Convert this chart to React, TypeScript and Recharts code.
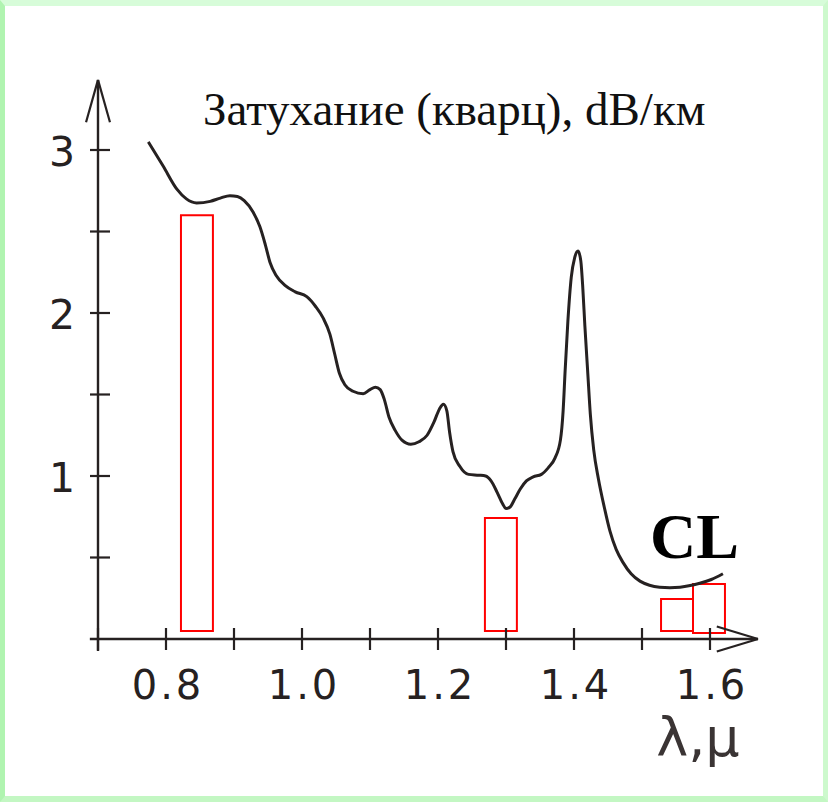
import {
  Line,
  LineChart,
  ReferenceArea,
  ReferenceLine,
  XAxis,
  YAxis,
} from "recharts";

// wavelength (µm) and attenuation (dB/km)
const wavelength = [
  0.774, 0.796, 0.816, 0.83, 0.845, 0.865, 0.88, 0.894, 0.905, 0.915, 0.928, 0.938,
  0.946, 0.953, 0.962, 0.975, 0.99, 1.007, 1.02, 1.031, 1.041, 1.048, 1.055, 1.063,
  1.075, 1.09, 1.1, 1.108, 1.115, 1.121, 1.128, 1.137, 1.147, 1.16, 1.172, 1.184,
  1.194, 1.202, 1.208, 1.213, 1.217, 1.222, 1.232, 1.245, 1.26, 1.27, 1.278, 1.287,
  1.295, 1.3, 1.306, 1.313, 1.321, 1.33, 1.34, 1.352, 1.362, 1.372, 1.38, 1.384,
  1.387, 1.391, 1.396, 1.401, 1.406, 1.41, 1.413, 1.416, 1.42, 1.424, 1.429, 1.436,
  1.445, 1.453, 1.462, 1.472, 1.484, 1.497, 1.511, 1.526, 1.541, 1.556, 1.571, 1.585,
  1.602, 1.619,
];
const attenuation = [
  3.05, 2.9, 2.76, 2.7, 2.675, 2.685, 2.705, 2.72, 2.715, 2.69, 2.62, 2.53,
  2.42, 2.31, 2.23, 2.17, 2.13, 2.1, 2.04, 1.97, 1.87, 1.75, 1.63, 1.56,
  1.52, 1.505, 1.53, 1.545, 1.53, 1.47, 1.36, 1.28, 1.22, 1.195, 1.21, 1.25,
  1.33, 1.41, 1.44, 1.4, 1.27, 1.15, 1.06, 1.01, 1.005, 1.0, 0.97, 0.9,
  0.83, 0.8, 0.81, 0.86, 0.92, 0.97, 0.995, 1.01, 1.05, 1.11, 1.22, 1.4,
  1.65, 1.95, 2.22, 2.34, 2.38, 2.32, 2.15, 1.92, 1.65, 1.38, 1.16, 0.98,
  0.8, 0.66, 0.55, 0.47, 0.4, 0.355, 0.33, 0.318, 0.315, 0.318, 0.328, 0.342,
  0.365, 0.4,
];

// transmission windows (red boxes): x from/to, y from/to
const windowX1 = [0.822, 1.269, 1.528, 1.575];
const windowX2 = [0.869, 1.316, 1.575, 1.622];
const windowY1 = [0.049, 0.049, 0.049, 0.037];
const windowY2 = [2.6, 0.742, 0.245, 0.337];

const xTicks = [0.7, 0.8, 0.9, 1.0, 1.1, 1.2, 1.3, 1.4, 1.5, 1.6];
const xLabels = ["", "0.8", "", "1.0", "", "1.2", "", "1.4", "", "1.6"];
const yTicks = [0.5, 1, 1.5, 2, 2.5, 3];
const yLabels = ["", "1", "", "2", "", "3"];

const data = wavelength.map((x, i) => ({ x, y: attenuation[i] }));

const ink = "#262121";
const tickFont = "'DejaVu Sans', sans-serif";

function XTick(props: any) {
  const { x, y, index } = props;
  return (
    <g>
      <line x1={x} x2={x} y1={y - 11} y2={y + 11} stroke={ink} strokeWidth={2.2} />
      <text
        x={x + 2}
        y={y + 60}
        textAnchor="middle"
        fontFamily={tickFont}
        fontSize={40}
        letterSpacing={3}
        fill={ink}
      >
        {xLabels[index]}
      </text>
    </g>
  );
}

function YTick(props: any) {
  const { x, y, index } = props;
  return (
    <g>
      <line x1={x - 8} x2={x + 12} y1={y} y2={y} stroke={ink} strokeWidth={2.2} />
      <text
        x={x - 23}
        y={y + 16}
        textAnchor="end"
        fontFamily={tickFont}
        fontSize={41}
        fill={ink}
      >
        {yLabels[index]}
      </text>
    </g>
  );
}

export default function App() {
  return (
    <div style={{ position: "absolute", left: 0, top: 0, width: 828, height: 802 }}>
      <div
        style={{
          position: "absolute",
          inset: 0,
          boxSizing: "border-box",
          background: "#fff",
          borderTop: "6px solid #d7fcd9",
          borderLeft: "5px solid #b0f4b0",
          borderRight: "5px solid #cdf9cd",
          borderBottom: "6px solid #c3f7c3",
        }}
      />
      <div style={{ position: "absolute", left: 0, top: 0 }}>
        <LineChart
          width={828}
          height={802}
          data={data}
          margin={{ top: 68.5, right: 50, bottom: 103, left: 0 }}
        >
          <XAxis
            dataKey="x"
            type="number"
            domain={[0.7, 1.7]}
            ticks={xTicks}
            interval={0}
            allowDataOverflow
            axisLine={false}
            tickLine={false}
            tickSize={0}
            tickMargin={0}
            height={60}
            tick={<XTick />}
          />
          <YAxis
            type="number"
            domain={[0, 3.5]}
            ticks={yTicks}
            interval={0}
            allowDataOverflow
            axisLine={false}
            tickLine={false}
            tickSize={0}
            tickMargin={0}
            width={98}
            tick={<YTick />}
          />
          {/* axes with arrow heads */}
          <ReferenceLine segment={[{ x: 0.688, y: 0 }, { x: 1.6706, y: 0 }]} stroke={ink} strokeWidth={2.4} ifOverflow="visible" />
          <ReferenceLine segment={[{ x: 1.61, y: 0.077 }, { x: 1.6706, y: 0 }]} stroke={ink} strokeWidth={2.2} ifOverflow="visible" />
          <ReferenceLine segment={[{ x: 1.61, y: -0.077 }, { x: 1.6706, y: 0 }]} stroke={ink} strokeWidth={2.2} ifOverflow="visible" />
          <ReferenceLine segment={[{ x: 0.7, y: -0.074 }, { x: 0.7, y: 3.43 }]} stroke={ink} strokeWidth={2.4} ifOverflow="visible" />
          <ReferenceLine segment={[{ x: 0.6824, y: 3.17 }, { x: 0.7, y: 3.43 }]} stroke={ink} strokeWidth={2.2} ifOverflow="visible" />
          <ReferenceLine segment={[{ x: 0.7176, y: 3.17 }, { x: 0.7, y: 3.43 }]} stroke={ink} strokeWidth={2.2} ifOverflow="visible" />
          {windowX1.map((x1, i) => (
            <ReferenceArea
              key={i}
              x1={x1}
              x2={windowX2[i]}
              y1={windowY1[i]}
              y2={windowY2[i]}
              stroke="#ff0000"
              strokeWidth={2}
              fill="none"
              fillOpacity={0}
              ifOverflow="visible"
            />
          ))}
          <Line
            dataKey="y"
            type="monotone"
            stroke={ink}
            strokeWidth={3}
            dot={false}
            isAnimationActive={false}
          />
        </LineChart>
      </div>
      <svg
        width={828}
        height={802}
        style={{ position: "absolute", left: 0, top: 0, pointerEvents: "none" }}
      >
        <text x={203} y={125} fontFamily="'Liberation Serif', serif" fontSize={47} fill="#111">
          Затухание (кварц), dB/км
        </text>
        <text x={650} y={558} fontFamily="'Liberation Serif', serif" fontWeight="bold" fontSize={64} fill="#000">
          CL
        </text>
        <text x={698} y={756} textAnchor="middle" fontFamily={tickFont} fontSize={54} fill="#3a3434">
          λ,μ
        </text>
      </svg>
    </div>
  );
}
